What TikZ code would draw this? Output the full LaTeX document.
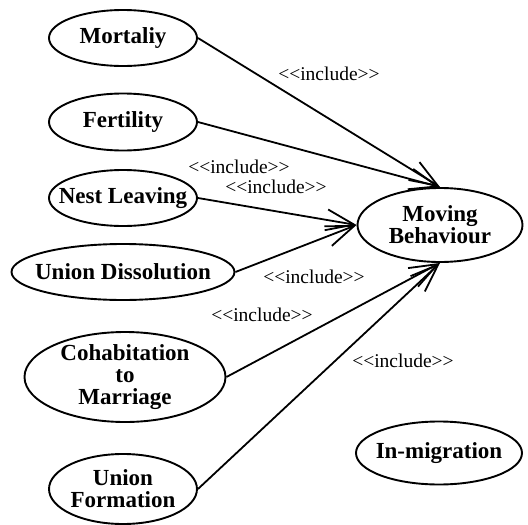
\documentclass[tikz,border=0pt]{standalone}
\usepackage{fontspec}
\setmainfont{Liberation Serif}
% separate family without TeX ligatures, so << and >> stay as typed
\newfontfamily\stereofont{Liberation Serif}
\usetikzlibrary{shapes.geometric,arrows.meta}
\begin{document}
\begin{tikzpicture}[x=1pt,y=-1pt,
  % the ellipse keeps its given size; its name is set as a centred label
  usecase/.style={ellipse,draw,line width=1.9pt,inner sep=0pt},
  uctext/.style={align=center,inner sep=0pt,
    font=\fontsize{23}{22}\selectfont\bfseries},
  incl/.style={line width=1.8pt,
    -{Straight Barb[length=28pt,width=21pt,line width=1.8pt]}},
  stereo/.style={fill=white,inner sep=1.5pt,
    font=\stereofont\fontsize{19.5}{19.5}\selectfont}]
\useasboundingbox (0,0) rectangle (528,525);

% use cases
\node[usecase,minimum width=148pt,minimum height=56pt,
  label={[uctext]center:Mortaliy}] (mort) at (123,38) {};
\node[usecase,minimum width=148pt,minimum height=57pt,
  label={[uctext]center:Fertility}] (fert) at (123,122) {};
\node[usecase,minimum width=148pt,minimum height=56pt,
  label={[uctext]center:Nest Leaving}] (nest) at (123,198) {};
\node[usecase,minimum width=223pt,minimum height=56pt,
  label={[uctext]center:Union Dissolution}] (diss) at (123,272) {};
\node[usecase,minimum width=201pt,minimum height=90pt,
  label={[uctext]center:Cohabitation\\to\\Marriage}] (cohab) at (125,377) {};
\node[usecase,minimum width=148pt,minimum height=70pt,
  label={[uctext]center:Union\\Formation}] (form) at (123,489) {};
\node[usecase,minimum width=165pt,minimum height=74pt,
  label={[uctext]center:Moving\\Behaviour}] (move) at (440,225) {};
\node[usecase,minimum width=166pt,minimum height=63pt,
  label={[uctext]center:In-migration}] (inmig) at (439,453) {};

% include relations
\draw[incl] (mort.east) -- (move.north);
\draw[incl] (fert.east) -- (move.north);
\draw[incl] (nest.east) -- (move.west);
\draw[incl] (diss.east) -- (move.west);
\draw[incl] (cohab.east) -- (move.south);
\draw[incl] (form.east) -- (move.south);

% stereotype labels
\node[stereo] (s1) at (329,74) {<<include>>};
\node[stereo] (s2) at (239,167) {<<include>>};
\node[stereo] (s3) at (276,187) {<<include>>};
\node[stereo] (s4) at (314,277) {<<include>>};
\node[stereo] (s5) at (262,315) {<<include>>};
\node[stereo] (s6) at (403,361) {<<include>>};
\end{tikzpicture}
\end{document}
